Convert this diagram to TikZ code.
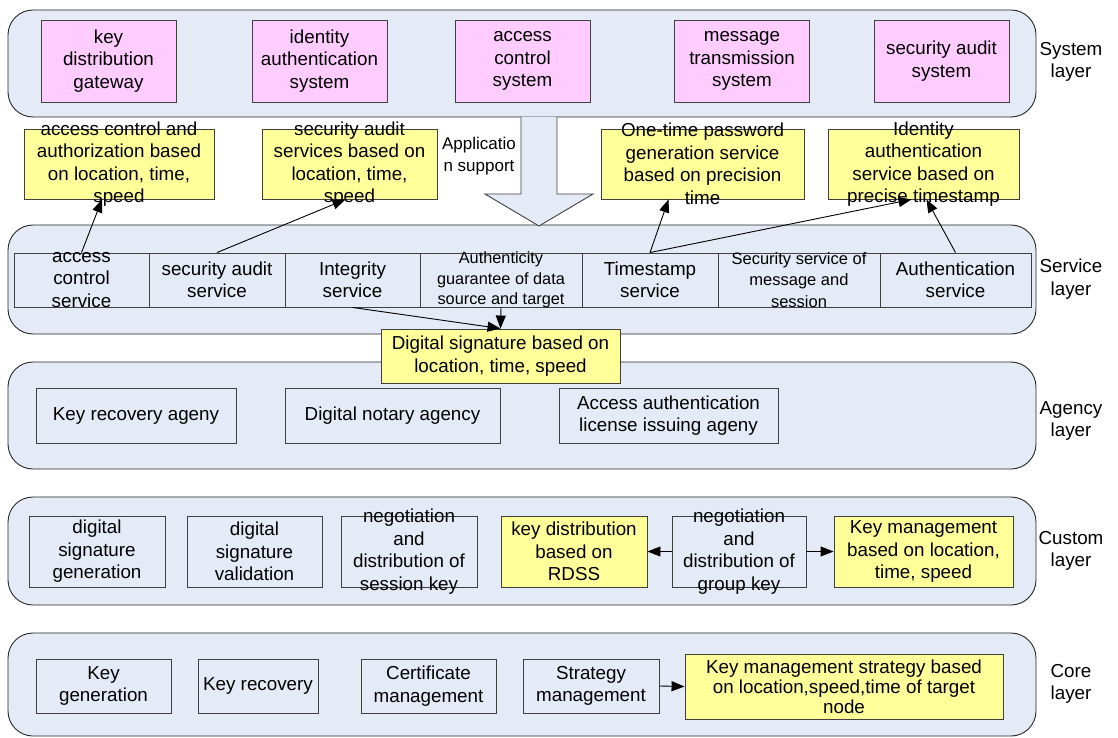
\documentclass[tikz,border=0pt]{standalone}
\usepackage{fontspec}
\setmainfont{Liberation Sans}
\usetikzlibrary{arrows.meta}
\definecolor{layer-fill}{HTML}{E4EBF6}
\definecolor{sys-pink}{HTML}{FFCCFF}
\definecolor{note-yellow}{HTML}{FFFF99}
\definecolor{edge-gray}{HTML}{404040}

\tikzset{
  layer/.style={draw=black!85, fill=layer-fill, line width=0.9pt, rounded corners=25pt},
  box/.style={draw=edge-gray, fill=layer-fill, line width=0.9pt, inner sep=0pt, align=center},
  sysbox/.style={box, fill=sys-pink, minimum width=135pt, minimum height=82pt},
  note/.style={box, fill=note-yellow},
  cell/.style={box, minimum height=54pt},
  txt/.style={align=center, inner sep=0pt},
  spill/.style={label={[txt]center:{#1}}},
  link/.style={line width=0.9pt, -{Triangle[length=13pt,width=10pt]}},
}

\begin{document}
\begin{tikzpicture}[x=1pt, y=-1pt, font=\fontsize{18.8}{22.5}\selectfont]
    \useasboundingbox (0,0) rectangle (1118,738);

    % layers
    \draw[layer] (8,10) rectangle (1036,117);
    \draw[layer] (8,225) rectangle (1036,334);
    \draw[layer] (8,362) rectangle (1036,469);
    \draw[layer] (8,497) rectangle (1036,605);
    \draw[layer] (8,633) rectangle (1036,736);

    \node[txt] (syslbl) at (1071,62) {System\\layer};
    \node[txt] (svclbl) at (1071,279) {Service\\layer};
    \node[txt] (agylbl) at (1071,421) {Agency\\layer};
    \node[txt] (cuslbl) at (1071,551) {Custom\\layer};
    \node[txt] (corlbl) at (1071,684) {Core\\layer};

    % system layer
    \node[sysbox] (kdg) at (108.5,61) {key\\distribution\\gateway};
    \node[sysbox] (idsys) at (319.5,61) {identity\\authentication\\system};
    \node[sysbox] (acsys) at (522.5,61) {access\\control\\system};
    \node[sysbox] (msgsys) at (742,61) {message\\transmission\\system};
    \node[sysbox] (audsys) at (941.5,61) {security audit\\system};

    % application support arrow
    \filldraw[fill=layer-fill, draw=edge-gray, line width=0.9pt]
        (521,117) -- (521,194) -- (485,194) -- (539,226) -- (593,194) -- (557,194) -- (557,117);
    \node[txt, font=\fontsize{17}{22}\selectfont] (appsup) at (479,156) {Applicatio\\n support};

    % services based on location and time
    \node[note, minimum width=190pt, minimum height=70pt,
          spill={access control and\\authorization based\\on location, time,\\speed}] (acauth) at (119,164) {};
    \node[note, minimum width=175pt, minimum height=70pt,
          spill={security audit\\services based on\\location, time,\\speed}] (saudit) at (349.5,164) {};
    \node[note, minimum width=203pt, minimum height=70pt,
          spill={One-time password\\generation service\\based on precision\\time}] (otp) at (702.5,164) {};
    \node[note, minimum width=191pt, minimum height=70pt,
          spill={Identity\\authentication\\service based on\\precise timestamp}] (idauth) at (923.5,164) {};

    % service layer
    \node[cell, minimum width=135pt, spill={access\\control\\service}] (acsvc) at (81.5,280) {};
    \node[cell, minimum width=136pt] (sasvc) at (217,280) {security audit\\service};
    \node[cell, minimum width=135pt] (intsvc) at (352.5,280) {Integrity\\service};
    \node[cell, minimum width=162pt,
          label={[txt, font=\fontsize{16.3}{20.5}\selectfont]center:{Authenticity\\guarantee of data\\source and target}}] (authg) at (501,280) {};
    \node[cell, minimum width=136pt] (tssvc) at (650,280) {Timestamp\\service};
    \node[cell, minimum width=162pt,
          label={[txt, font=\fontsize{16.5}{21.5}\selectfont]center:{Security service of\\message and\\session}}] (msgsvc) at (799,280) {};
    \node[cell, minimum width=151pt] (authsvc) at (955.5,280) {Authentication\\service};

    % agency layer
    \node[note, minimum width=239pt, minimum height=54pt] (dsig) at (500.5,356) {Digital signature based on\\location, time, speed};
    \node[box, minimum width=200pt, minimum height=55pt] (keyrec) at (136,415.5) {Key recovery ageny};
    \node[box, minimum width=215pt, minimum height=55pt] (notary) at (392.5,415.5) {Digital notary agency};
    \node[box, minimum width=219pt, minimum height=55pt] (license) at (668.5,415.5) {Access authentication\\license issuing ageny};

    % custom layer
    \node[box, minimum width=136pt, minimum height=71pt] (siggen) at (97,551.5) {digital\\signature\\generation};
    \node[box, minimum width=135pt, minimum height=71pt] (sigval) at (254.5,551.5) {digital\\signature\\validation};
    \node[box, minimum width=136pt, minimum height=71pt,
          spill={negotiation\\and\\distribution of\\session key}] (sesskey) at (409,551.5) {};
    \node[note, minimum width=146pt, minimum height=71pt] (rdss) at (574,551.5) {key distribution\\based on\\RDSS};
    \node[box, minimum width=134pt, minimum height=71pt,
          spill={negotiation\\and\\distribution of\\group key}] (grpkey) at (739,551.5) {};
    \node[note, minimum width=179pt, minimum height=71pt] (keymgmt) at (923.5,551.5) {Key management\\based on location,\\time, speed};

    % core layer
    \node[box, minimum width=135pt, minimum height=54pt] (keygen) at (103.5,686) {Key\\generation};
    \node[box, minimum width=120pt, minimum height=54pt] (keyrcv) at (258,686) {Key recovery};
    \node[box, minimum width=135pt, minimum height=54pt] (certmgmt) at (428.5,686) {Certificate\\management};
    \node[box, minimum width=136pt, minimum height=54pt] (stratmgmt) at (591,686) {Strategy\\management};
    \node[note, minimum width=318pt, minimum height=65pt,
          label={[txt, font=\fontsize{18.8}{20}\selectfont]center:{Key management strategy based\\on location,speed,time of target\\node}}] (kmstrat) at (844,686.5) {};

    % connectors
    \draw[link] (acsvc.north) -- ([xshift=-17pt]acauth.south);
    \draw[link] (sasvc.north) -- ([xshift=-4pt]saudit.south);
    \draw[link] (tssvc.north) -- ([xshift=-34pt]otp.south);
    \draw[link] (tssvc.north) -- ([xshift=-12pt]idauth.south);
    \draw[link] (authsvc.north) -- ([xshift=3pt]idauth.south);
    \draw[link] (intsvc.south) -- (dsig.north);
    \draw[link] (authg.south) -- (dsig.north);
    \draw[link] (grpkey.west) -- (rdss.east);
    \draw[link] (grpkey.east) -- (keymgmt.west);
    \draw[link] (stratmgmt.east) -- (kmstrat.west);
\end{tikzpicture}
\end{document}
